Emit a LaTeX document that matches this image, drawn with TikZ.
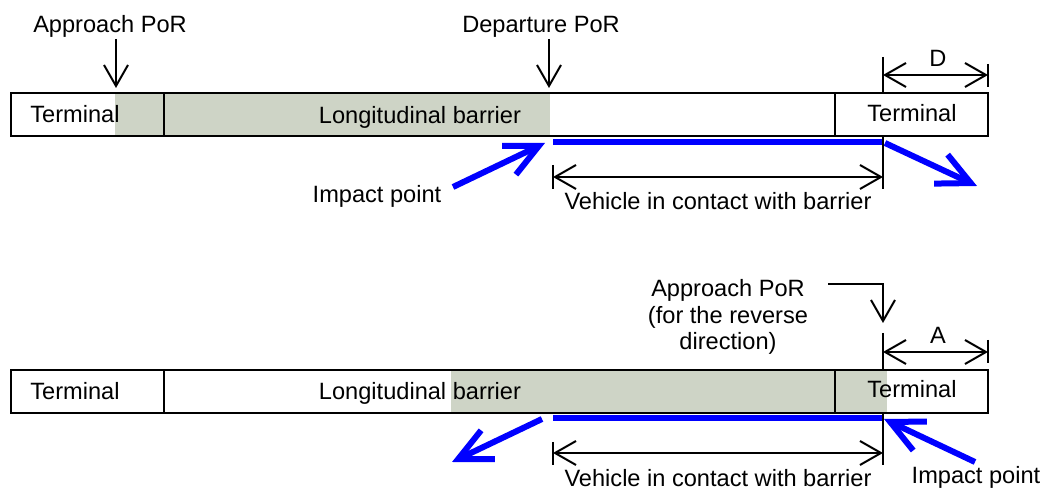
\documentclass[tikz,border=0pt]{standalone}
\usepackage{fontspec}
\setmainfont{Liberation Sans}
\usetikzlibrary{arrows.meta}
\definecolor{vblue}{RGB}{0,0,255}
\definecolor{barfill}{RGB}{206,212,198}

\begin{document}
\begin{tikzpicture}[x=0.5pt,y=-0.5pt,line width=1pt,
                    >={Straight Barb[length=10.5pt,width=12pt]}]
\tikzstyle{bar}=[draw=black,line width=1.4pt]
\tikzstyle{lbl}=[inner sep=0pt,anchor=base]
\tikzstyle{dim}=[<->]
\tikzstyle{run}=[draw=vblue,line width=3pt]
\tikzstyle{car}=[run,-{Straight Barb[length=16.5pt,width=16pt]}]
\tikzset{font=\fontsize{11.8pt}{13.4pt}\selectfont}

\useasboundingbox (0,0) rectangle (1045,490);

%%% upper barrier
        \fill[barfill] (115,93) rectangle (550,136);
        \draw[bar] (11,93) rectangle (988,136);
        \draw[bar] (164,93) -- (164,136) (835,93) -- (835,136);

        \node[lbl] (term1)  at (75,123)  {Terminal};
        \node[lbl] (long1)  at (420,124) {Longitudinal barrier};
        \node[lbl] (term2)  at (912,122) {Terminal};

        \node[lbl] (apr1) at (110,33) {Approach PoR};
        \node[lbl] (dpr1) at (541,33) {Departure PoR};
        \coordinate (apr1in) at (116,88);
        \coordinate (dpr1in) at (549,88);

        \path[->]
        (apr1.south -| apr1in)   edge node {}   (apr1in)
        (dpr1.south -| dpr1in)   edge node {}   (dpr1in)
        ; %end path

        % D
        \draw (883,57) -- (883,93) (988,64) -- (988,87);
        \coordinate (d1) at (883,75);
        \coordinate (d2) at (988,75);
        \draw[dim] (d1) -- (d2);
        \node[lbl] (D) at (938,67) {D};

        % vehicle path
        \coordinate (c1) at (553,142);
        \coordinate (c2) at (883,142);
        \draw[run] (c1) -- (c2);
        \node[lbl] (imp1) at (377,203) {Impact point};
        \coordinate (in1)  at (453,187);
        \coordinate (hit1) at (545,143);
        \coordinate (out1) at (885,143);
        \coordinate (ex1)  at (977,186);
        \draw[car] (in1) -- (hit1);
        \draw[car] (out1) -- (ex1);

        \draw (553,165) -- (553,189) (883,136) -- (883,189);
        \coordinate (v1) at (553,177);
        \coordinate (v2) at (883,177);
        \draw[dim] (v1) -- (v2);
        \node[lbl] (veh1) at (718,210) {Vehicle in contact with barrier};

%%% lower barrier
        \fill[barfill] (451,370) rectangle (887,413);
        \draw[bar] (11,370) rectangle (988,413);
        \draw[bar] (164,370) -- (164,413) (835,370) -- (835,413);

        \node[lbl] (term3)  at (75,400)  {Terminal};
        \node[lbl] (long2)  at (420,400) {Longitudinal barrier};
        \node[lbl] (term4)  at (912,398) {Terminal};

        % base of a multi-line node is its last line
        \node[lbl,align=center] (apr2) at (728,350)
             {Approach PoR\\(for the reverse\\direction)};
        \coordinate (bend)   at (828,284);
        \coordinate (apr2in) at (883,323);
        \draw[->] (bend) -| (apr2in);

        % A
        \draw (883,333) -- (883,370) (988,340) -- (988,363);
        \coordinate (a1) at (883,352);
        \coordinate (a2) at (988,352);
        \draw[dim] (a1) -- (a2);
        \node[lbl] (A) at (938,344) {A};

        % vehicle path, reverse direction
        \coordinate (c3) at (553,418);
        \coordinate (c4) at (883,418);
        \draw[run] (c3) -- (c4);
        \coordinate (in2)  at (975,462);
        \coordinate (hit2) at (884,419);
        \coordinate (out2) at (542,419);
        \coordinate (ex2)  at (452,462);
        \draw[car] (in2) -- (hit2);
        \draw[car] (out2) -- (ex2);
        \node[lbl] (imp2) at (976,484) {Impact point};

        \draw (553,442) -- (553,465) (883,413) -- (883,465);
        \coordinate (v3) at (553,453);
        \coordinate (v4) at (883,453);
        \draw[dim] (v3) -- (v4);
        \node[lbl] (veh2) at (718,487) {Vehicle in contact with barrier};

\end{tikzpicture}
\end{document}
